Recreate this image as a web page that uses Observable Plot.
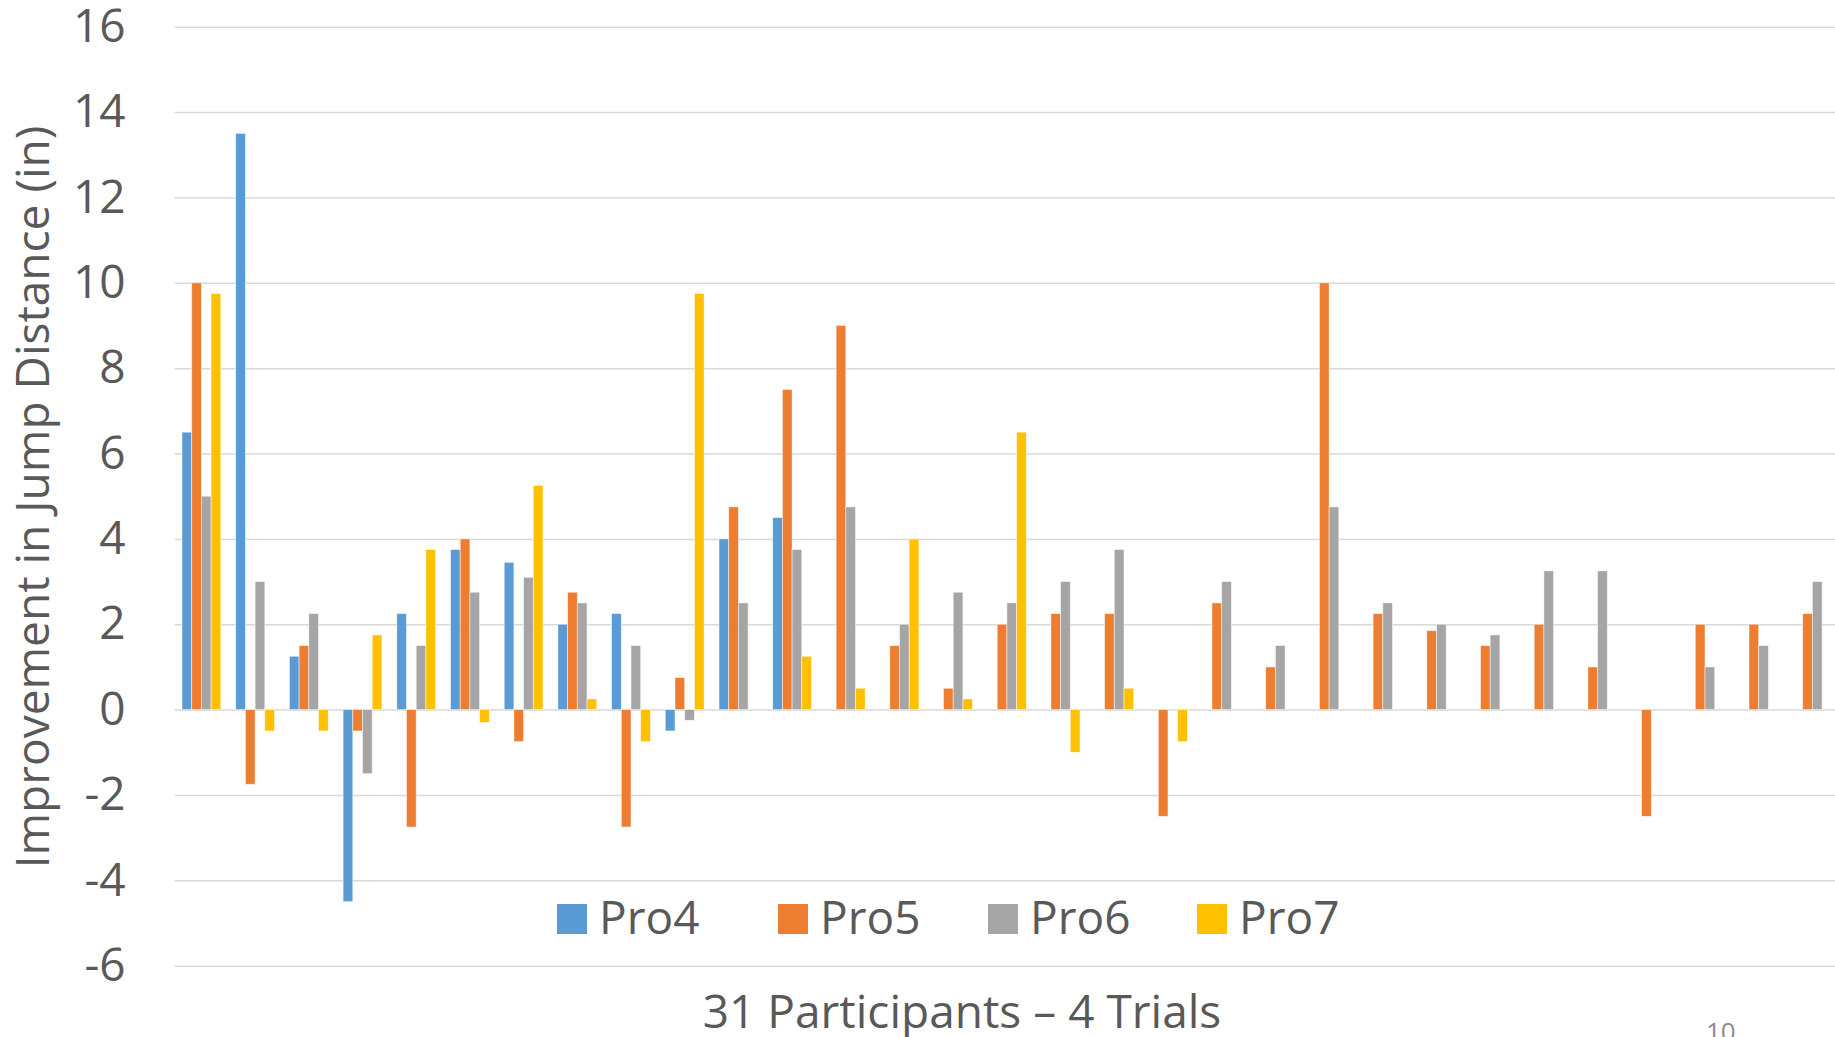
<!DOCTYPE html>
<html>
<head>
<meta charset="utf-8">
<script src="https://cdn.jsdelivr.net/npm/d3@7"></script>
<script src="https://cdn.jsdelivr.net/npm/@observablehq/plot@0.6"></script>
<style>
html, body { margin: 0; padding: 0; background: #fff; overflow: hidden; width: 1835px; height: 1037px; }
#wrap { position: relative; width: 1835px; height: 1037px; overflow: hidden; }
#wrap svg { position: absolute; left: 0; top: 0; max-width: none !important; }
</style>
</head>
<body>
<div id="wrap"></div>
<script>
// ---- data ----
const participants = d3.range(1, 32).map(i => "P" + i);
const seriesNames = ["Pro4", "Pro5", "Pro6", "Pro7"];
const seriesColors = ["#5B9BD5", "#ED7D31", "#A5A5A5", "#FFC000"];

const pro4 = [6.5, 13.5, 1.25, -4.5, 2.25, 3.75, 3.45, 2, 2.25, -0.5, 4, 4.5,
  null, null, null, null, null, null, null, null, null, null, null, null, null, null, null, null, null, null, null];
const pro5 = [10, -1.75, 1.5, -0.5, -2.75, 4, -0.75, 2.75, -2.75, 0.75, 4.75, 7.5,
  9, 1.5, 0.5, 2, 2.25, 2.25, -2.5, 2.5, 1, 10, 2.25, 1.85, 1.5, 2, 1, -2.5, 2, 2, 2.25];
const pro6 = [5, 3, 2.25, -1.5, 1.5, 2.75, 3.1, 2.5, 1.5, -0.25, 2.5, 3.75,
  4.75, 2, 2.75, 2.5, 3, 3.75, null, 3, 1.5, 4.75, 2.5, 2, 1.75, 3.25, 3.25, null, 1, 1.5, 3];
const pro7 = [9.75, -0.5, -0.5, 1.75, 3.75, -0.3, 5.25, 0.25, -0.75, 9.75, null, 1.25,
  0.5, 4, 0.25, 6.5, -1, 0.5, -0.75, null, null, null, null, null, null, null, null, null, null, null, null];

const yTicks = [-6, -4, -2, 0, 2, 4, 6, 8, 10, 12, 14, 16];
const yTitle = "Improvement in Jump Distance (in)";
const xTitle = "31 Participants \u2013 4 Trials";
const slideNumber = "10";

// ---- table ----
const rows = [];
[pro4, pro5, pro6, pro7].forEach((vals, si) =>
  vals.forEach((v, pi) => {
    if (v != null) rows.push({participant: participants[pi], series: seriesNames[si], value: v});
  })
);

const FONT = "'Open Sans', 'Noto Sans', sans-serif";
const TEXT = "#595959";
const PLOT_LEFT = 174.55, PLOT_RIGHT = 1839.25;
const common = {
  width: 1850, height: 1037,
  marginLeft: PLOT_LEFT, marginRight: 1850 - PLOT_RIGHT, marginTop: 26.7, marginBottom: 71.3,
  style: {fontFamily: FONT, background: "transparent", overflow: "visible", maxWidth: "none"}
};

// grid + y axis (continuous across the whole plot)
const grid = Plot.plot({
  ...common,
  y: {domain: [-6, 16]},
  marks: [
    Plot.gridY(yTicks, {stroke: "#D9D9D9", strokeOpacity: 1, strokeWidth: 1.5}),
    Plot.axisY(yTicks, {tickSize: 0, tickPadding: 49.5, fontSize: 46, fill: TEXT, label: null, tickFormat: d => String(d)})
  ]
});

// grouped bars
const bars = Plot.plot({
  ...common,
  fx: {domain: participants, paddingInner: 0.2775, paddingOuter: 0.13875,
       round: false, axis: null, label: null},
  x: {domain: seriesNames, padding: 0, round: false, axis: null},
  y: {domain: [-6, 16], axis: null},
  color: {domain: seriesNames, range: seriesColors},
  marks: [
    Plot.barY(rows, {fx: "participant", x: "series", y: "value", fill: "series",
      stroke: "white", strokeWidth: 0.8, strokeOpacity: 0.6})
  ]
});

const wrap = document.getElementById("wrap");
wrap.appendChild(grid);
wrap.appendChild(bars);

// titles, legend, slide number
const svg = d3.create("svg").attr("width", 1835).attr("height", 1037)
  .style("font-family", FONT).style("overflow", "visible");

svg.append("text")
  .attr("transform", "translate(48.5,497) rotate(-90)")
  .attr("text-anchor", "middle").attr("font-size", 46).attr("fill", TEXT)
  .text(yTitle);

svg.append("text")
  .attr("x", 962).attr("y", 1028)
  .attr("text-anchor", "middle").attr("font-size", 46).attr("fill", TEXT)
  .text(xTitle);

const legendX = [557, 778, 988, 1197];
const lg = svg.append("g");
seriesNames.forEach((name, i) => {
  lg.append("rect").attr("x", legendX[i]).attr("y", 904).attr("width", 30).attr("height", 30)
    .attr("fill", seriesColors[i]);
  lg.append("text").attr("x", legendX[i] + 42).attr("y", 934)
    .attr("font-size", 46).attr("fill", TEXT).text(name);
});

svg.append("text")
  .attr("x", 1706).attr("y", 1041)
  .attr("font-size", 26).attr("fill", "#8C8C8C")
  .text(slideNumber);

wrap.appendChild(svg.node());
</script>
</body>
</html>
